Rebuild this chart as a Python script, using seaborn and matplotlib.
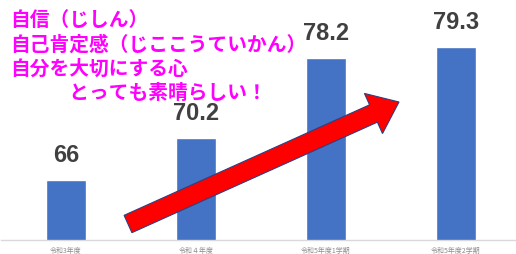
#!/usr/bin/env python3
"""Bar chart of self-esteem scores by school term, with a rising arrow."""

import matplotlib
matplotlib.use("Agg")
import matplotlib.pyplot as plt
from matplotlib.patches import FancyArrow
import pandas as pd
import seaborn as sns

PERIODS = ["令和3年度", "令和４年度", "令和5年度1学期", "令和5年度2学期"]
SCORES = [66, 70.2, 78.2, 79.3]
VALUE_LABELS = ["66", "70.2", "78.2", "79.3"]
MESSAGE = [
    "自信（じしん）",
    "自己肯定感（じここうていかん）",
    "自分を大切にする心",
    "　　　とっても素晴らしい！",
]

BAR_COLOR = "#4472C4"
PINK = "#FF00FF"


def main() -> None:
    df = pd.DataFrame({"period": PERIODS, "score": SCORES})

    sns.set_theme(style="white")
    plt.rcParams["font.family"] = ["Noto Sans CJK JP", "DejaVu Sans"]

    W, H = 516, 255
    fig = plt.figure(figsize=(W / 100, H / 100), dpi=100)
    ax = fig.add_axes([1 / W, (H - 240.5) / H, 514 / W, 240 / H])

    sns.barplot(data=df, x="period", y="score", color=BAR_COLOR,
                width=0.31, saturation=1, ax=ax)
    ax.set_ylim(60, 84.05)
    ax.set_xlim(-0.5, 3.5 - 6 / 130)
    ax.set_xlabel("")
    ax.set_ylabel("")
    ax.set_yticks([])
    for side in ["top", "right", "left"]:
        ax.spines[side].set_visible(False)
    ax.spines["bottom"].set_color("#D9D9D9")
    ax.spines["bottom"].set_linewidth(1)

    ax.set_xticks(range(len(PERIODS)))
    ax.set_xticklabels(PERIODS, fontsize=5, color="#8C8C8C")
    ax.tick_params(axis="x", which="major", length=0, pad=5)
    ax.set_xticks([-0.5, 0.5, 1.5, 2.5], minor=True)
    ax.tick_params(axis="x", which="minor", length=3, color="#D9D9D9", width=1)

    for i, (v, lab) in enumerate(zip(SCORES, VALUE_LABELS)):
        ax.annotate(lab, xy=(i, v), xytext=(0, 10), textcoords="offset points",
                    ha="center", va="bottom", fontsize=17, color="#404040",
                    fontweight="bold",
                    family=["Liberation Sans", "DejaVu Sans"])

    # rising red arrow, drawn in pixel space (y flipped)
    px = fig.dpi_scale_trans
    x0, y0 = 128, 225
    x1, y1 = 399, 103
    arrow = FancyArrow(x0 / 100, (H - y0) / 100, (x1 - x0) / 100, -(y1 - y0) / 100,
                       width=0.19, head_width=0.44, head_length=0.28,
                       length_includes_head=True, transform=px,
                       facecolor="#FF0000", edgecolor="#2F3F7F", linewidth=0.8)
    fig.add_artist(arrow)

    for k, line in enumerate(MESSAGE):
        fig.text(10 / W, 1 - (21 + 24.3 * k) / H, line, fontsize=14.2,
                 fontweight="bold", color=PINK, ha="left", va="center")

    fig.savefig("out.png", dpi=100)


if __name__ == "__main__":
    main()
